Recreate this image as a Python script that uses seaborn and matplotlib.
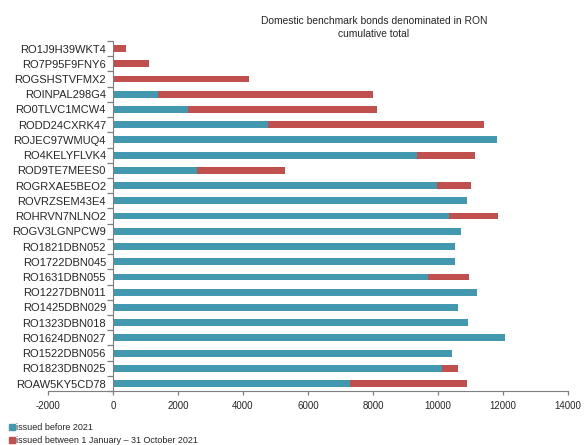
import matplotlib
matplotlib.use("Agg")
import matplotlib.pyplot as plt
from matplotlib.lines import Line2D
import seaborn as sns
import pandas as pd

bonds = [
    "RO1J9H39WKT4", "RO7P95F9FNY6", "ROGSHSTVFMX2", "ROINPAL298G4", "RO0TLVC1MCW4",
    "RODD24CXRK47", "ROJEC97WMUQ4", "RO4KELYFLVK4", "ROD9TE7MEES0", "ROGRXAE5BEO2",
    "ROVRZSEM43E4", "ROHRVN7NLNO2", "ROGV3LGNPCW9", "RO1821DBN052", "RO1722DBN045",
    "RO1631DBN055", "RO1227DBN011", "RO1425DBN029", "RO1323DBN018", "RO1624DBN027",
    "RO1522DBN056", "RO1823DBN025", "ROAW5KY5CD78",
]
issued_before_2021 = [
    0, 0, 0, 1400, 2300,
    4780, 11810, 9340, 2590, 9960,
    10900, 10320, 10700, 10530, 10510,
    9700, 11210, 10600, 10910, 12050,
    10440, 10120, 7280,
]
issued_2021 = [
    410, 1100, 4170, 6590, 5830,
    6630, 0, 1780, 2700, 1050,
    0, 1530, 0, 0, 0,
    1260, 0, 0, 0, 0,
    0, 480, 3600,
]

BLUE = "#4198AF"
RED = "#C0504D"
GREY = "#7F7F7F"

df = pd.DataFrame({
    "bond": bonds,
    "before": issued_before_2021,
    "y2021": issued_2021,
})
df["total"] = df["before"] + df["y2021"]

sns.set_style("white")
plt.rcParams["font.family"] = ["Liberation Sans", "DejaVu Sans"]

fig = plt.figure(figsize=(5.84, 4.45), dpi=100)
ax = fig.add_axes([0.082, 0.121, 0.891, 0.787])

sns.barplot(data=df, y="bond", x="total", orient="h", color=RED, width=0.45,
            saturation=1, ax=ax, edgecolor="none")
sns.barplot(data=df, y="bond", x="before", orient="h", color=BLUE, width=0.45,
            saturation=1, ax=ax, edgecolor="none")

ax.set_xlim(-2000, 14000)
ax.set_ylim(len(bonds) - 0.5, -0.5)
ax.set_xticks(range(-2000, 14001, 2000))
ax.set_xticklabels([str(v) for v in range(-2000, 14001, 2000)], fontsize=7)
ax.set_xlabel("")
ax.set_ylabel("")

# value axis drawn at zero, with category ticks between bars
for side in ("top", "right"):
    ax.spines[side].set_visible(False)
ax.spines["left"].set_position(("data", 0))
ax.spines["left"].set_color(GREY)
ax.spines["left"].set_linewidth(0.8)
ax.spines["bottom"].set_color(GREY)
ax.spines["bottom"].set_linewidth(0.8)

ax.set_yticks(range(len(bonds)))
ax.set_yticklabels(bonds, fontsize=8)
ax.tick_params(axis="y", which="major", left=True, length=0, pad=5)
ax.set_yticks([i - 0.5 for i in range(len(bonds) + 1)], minor=True)
ax.tick_params(axis="y", which="minor", left=True, length=4, color=GREY, width=0.9)
ax.tick_params(axis="x", which="major", bottom=True, length=3, color=GREY, width=0.9,
               direction="out", pad=4)

fig.text(0.64, 0.938, "Domestic benchmark bonds denominated in RON\ncumulative total",
         ha="center", va="center", fontsize=7.4, linespacing=1.35)

handles = [
    Line2D([], [], marker="s", linestyle="none", markersize=4.5,
           markerfacecolor=BLUE, markeredgecolor=BLUE),
    Line2D([], [], marker="s", linestyle="none", markersize=4.5,
           markerfacecolor=RED, markeredgecolor=RED),
]
fig.legend(handles, ["issued before 2021", "issued between 1 January \u2013 31 October 2021"],
           loc="lower left", bbox_to_anchor=(0.012, -0.004), frameon=False,
           fontsize=6.5, handlelength=0.6, handletextpad=0.2, labelspacing=0.45,
           borderaxespad=0.0, borderpad=0.2)

fig.savefig("out.png", dpi=100)
